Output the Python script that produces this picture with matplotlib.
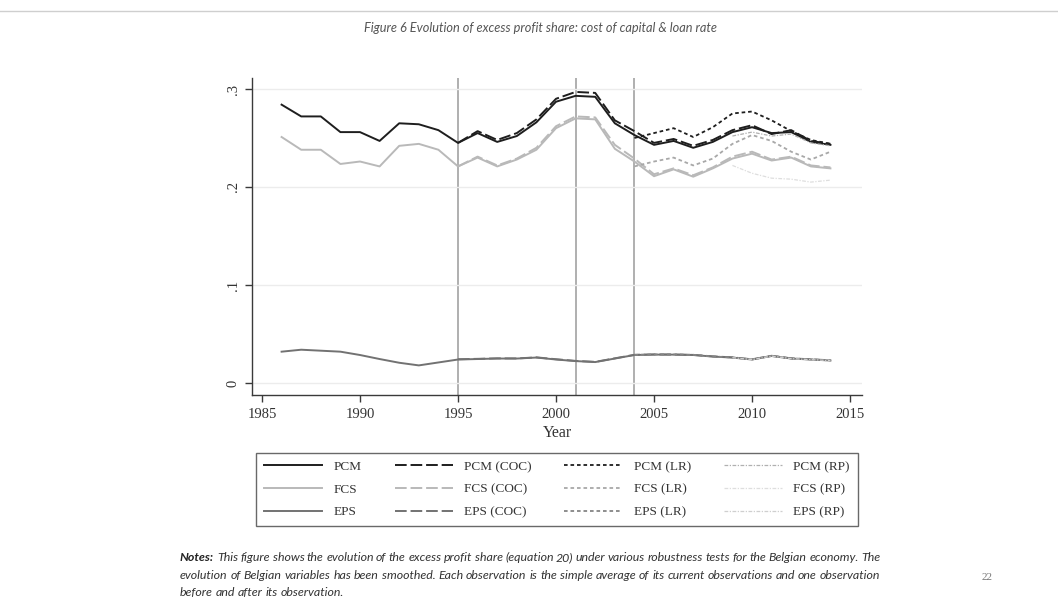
import matplotlib
matplotlib.use("Agg")
import matplotlib.pyplot as plt
from matplotlib.lines import Line2D

# ---- data -------------------------------------------------------------
years = list(range(1986, 2015))
years_coc = list(range(1995, 2015))
years_lr = list(range(2004, 2015))
years_rp = list(range(2009, 2015))

pcm = [0.284, 0.272, 0.272, 0.256, 0.256, 0.247, 0.265, 0.264, 0.258, 0.245,
       0.255, 0.246, 0.252, 0.266, 0.287, 0.293, 0.292, 0.265, 0.253, 0.243,
       0.247, 0.240, 0.246, 0.256, 0.261, 0.255, 0.256, 0.246, 0.243]
fcs = [0.251, 0.238, 0.238, 0.2235, 0.226, 0.221, 0.242, 0.244, 0.238, 0.221,
       0.230, 0.221, 0.228, 0.238, 0.260, 0.270, 0.269, 0.239, 0.226, 0.211,
       0.218, 0.2105, 0.219, 0.229, 0.234, 0.227, 0.230, 0.221, 0.219]
eps = [0.032, 0.034, 0.033, 0.032, 0.0286, 0.0245, 0.0207, 0.018, 0.021, 0.024,
       0.0245, 0.025, 0.025, 0.026, 0.024, 0.0224, 0.0214, 0.025, 0.0286, 0.029,
       0.029, 0.0286, 0.027, 0.026, 0.024, 0.0276, 0.025, 0.024, 0.023]

pcm_coc = [0.245, 0.257, 0.248, 0.255, 0.269, 0.290, 0.297, 0.296, 0.268, 0.257,
           0.245, 0.249, 0.242, 0.248, 0.258, 0.263, 0.254, 0.258, 0.247, 0.244]
fcs_coc = [0.221, 0.231, 0.222, 0.229, 0.240, 0.262, 0.272, 0.271, 0.243, 0.229,
           0.213, 0.219, 0.212, 0.220, 0.231, 0.236, 0.228, 0.231, 0.222, 0.220]
eps_coc = [0.0243, 0.0247, 0.0252, 0.0251, 0.0262, 0.0243, 0.0226, 0.0216, 0.0252, 0.0288,
           0.0292, 0.0291, 0.0287, 0.0272, 0.0262, 0.0242, 0.0278, 0.0252, 0.0242, 0.0232]

pcm_lr = [0.250, 0.255, 0.260, 0.251, 0.261, 0.275, 0.277, 0.268, 0.257, 0.248, 0.244]
fcs_lr = [0.221, 0.226, 0.230, 0.222, 0.229, 0.244, 0.253, 0.247, 0.236, 0.228, 0.236]
eps_lr = [0.0287, 0.0292, 0.0292, 0.0288, 0.0271, 0.0261, 0.0241, 0.0277, 0.0251, 0.0241, 0.0231]

pcm_rp = [0.252, 0.256, 0.252, 0.254, 0.245, 0.242]
fcs_rp = [0.222, 0.214, 0.209, 0.208, 0.205, 0.207]
eps_rp = [0.0259, 0.0239, 0.0275, 0.0249, 0.0239, 0.0229]

break_years = [1995, 2001, 2004]
xticks = [1985, 1990, 1995, 2000, 2005, 2010, 2015]
yticks = [0.0, 0.1, 0.2, 0.3]
ytick_labels = ["0", ".1", ".2", ".3"]

title = "Figure 6 Evolution of excess profit share: cost of capital & loan rate"
notes_lines = [
    "This figure shows the evolution of the excess profit share (equation 20) under various robustness tests for the Belgian economy.  The",
    "evolution of Belgian variables has been smoothed. Each observation is the simple average of its current observations and one observation",
    "before and after its observation.",
]

# ---- styles -----------------------------------------------------------
C_PCM, C_FCS, C_EPS = "#1e1e1e", "#b9b9b9", "#727272"
SERIF = ["Liberation Serif", "DejaVu Serif"]

fig = plt.figure(figsize=(10.58, 6.01), dpi=100)
fig.patch.set_facecolor("white")

ax = fig.add_axes([252 / 1058, 1 - 395 / 601, 610 / 1058, 317 / 601])
ax.set_xlim(1984.49, 2015.61)
ax.set_ylim(-0.0122, 0.3112)

ax.grid(axis="y", color="#ececec", lw=1.0, zorder=0)
for by in break_years:
    ax.axvline(by, color="#9a9a9a", lw=1.1, zorder=1)

series = [
    # (x, y, color, dashes, lw, label)
    (years, pcm, C_PCM, None, 1.4, "PCM"),
    (years, fcs, C_FCS, None, 1.4, "FCS"),
    (years, eps, C_EPS, None, 1.4, "EPS"),
    (years_coc, pcm_coc, C_PCM, (6, 2), 1.4, "PCM (COC)"),
    (years_coc, fcs_coc, C_FCS, (6, 2), 1.4, "FCS (COC)"),
    (years_coc, eps_coc, C_EPS, (6, 2), 1.4, "EPS (COC)"),
    (years_lr, pcm_lr, C_PCM, (2, 1.6), 1.3, "PCM (LR)"),
    (years_lr, fcs_lr, "#a8a8a8", (2, 1.6), 1.3, "FCS (LR)"),
    (years_lr, eps_lr, "#858585", (2, 1.6), 1.3, "EPS (LR)"),
    (years_rp, pcm_rp, "#b0b0b0", (3, 1.2, 1, 1.2), 0.9, "PCM (RP)"),
    (years_rp, fcs_rp, "#dedede", (3, 1.2, 1, 1.2), 0.9, "FCS (RP)"),
    (years_rp, eps_rp, "#cfcfcf", (3, 1.2, 1, 1.2), 0.9, "EPS (RP)"),
]

handles = []
for x, y, c, d, lw, lab in series:
    kw = dict(color=c, lw=lw, zorder=3)
    if d is not None:
        kw["dashes"] = d
    ax.plot(x, y, **kw)
    handles.append(Line2D([], [], label=lab, **kw))

for s in ["top", "right"]:
    ax.spines[s].set_visible(False)
for s in ["left", "bottom"]:
    ax.spines[s].set_color("#3a3a3a")
    ax.spines[s].set_linewidth(1.0)

ax.set_xticks(xticks)
ax.set_xticklabels([str(t) for t in xticks], fontfamily=SERIF, fontsize=10.5, color="#333333")
ax.set_yticks(yticks)
ax.set_yticklabels(ytick_labels, rotation=90, va="center", fontfamily=SERIF,
                   fontsize=10.5, color="#333333")
ax.tick_params(axis="both", direction="out", length=5, width=1, color="#3a3a3a", pad=4)
ax.set_xlabel("Year", fontfamily=SERIF, fontsize=11.5, color="#333333", labelpad=3)

leg = fig.legend(handles=handles, ncol=4, loc="center",
                 bbox_to_anchor=(557 / 1058, 1 - 489.5 / 601),
                 prop={"family": SERIF, "size": 9.5},
                 handlelength=4.4, handletextpad=0.85, columnspacing=2.5,
                 labelspacing=0.78, borderpad=0.6, fancybox=False, frameon=True)
leg.get_frame().set_edgecolor("#444444")
leg.get_frame().set_linewidth(1.0)
for t in leg.get_texts():
    t.set_color("#333333")

# ---- page furniture ----------------------------------------------------
fig.add_artist(Line2D([0, 1], [1 - 11 / 601, 1 - 11 / 601], color="#cfcfcf", lw=1.0,
                      transform=fig.transFigure))
fig.text(540 / 1058, 1 - 28 / 601, title, ha="center", va="center",
         fontfamily="Lato", style="italic", fontsize=9.2, color="#555555")

renderer = fig.canvas.get_renderer()
left_px, right_px = 180, 880
line_base = [561, 579, 596]
NOTE_SIZE = 8.9
note_kw = dict(fontfamily="Lato", style="italic", fontsize=NOTE_SIZE, color="#333333",
               va="baseline")


def draw_words(words, y_px, x0_px, justify):
    objs, widths = [], []
    for w in words:
        t = fig.text(0, 0, w, **note_kw)
        widths.append(t.get_window_extent(renderer).width)
        objs.append(t)
    space = fig.text(0, 0, "a a", **note_kw)
    a_only = fig.text(0, 0, "aa", **note_kw)
    sp = space.get_window_extent(renderer).width - a_only.get_window_extent(renderer).width
    space.remove()
    a_only.remove()
    if justify and len(words) > 1:
        sp = (right_px - x0_px - sum(widths)) / (len(words) - 1)
    x = x0_px
    for t, w in zip(objs, widths):
        t.set_position((x / 1058, 1 - y_px / 601))
        x += w + sp


notes_lbl = fig.text(left_px / 1058, 1 - line_base[0] / 601, "Notes:", fontfamily="Lato",
                     style="italic", weight="bold", fontsize=NOTE_SIZE, color="#222222",
                     va="baseline")
nw = notes_lbl.get_window_extent(renderer).width
draw_words(notes_lines[0].split(), line_base[0], left_px + nw + 3, True)
draw_words(notes_lines[1].split(), line_base[1], left_px, True)
draw_words(notes_lines[2].split(), line_base[2], left_px, False)

fig.text(987 / 1058, 1 - 578 / 601, "22", ha="center", va="center",
         fontfamily=SERIF, fontsize=8, color="#777777")

fig.savefig("out.png", dpi=100, facecolor="white")
